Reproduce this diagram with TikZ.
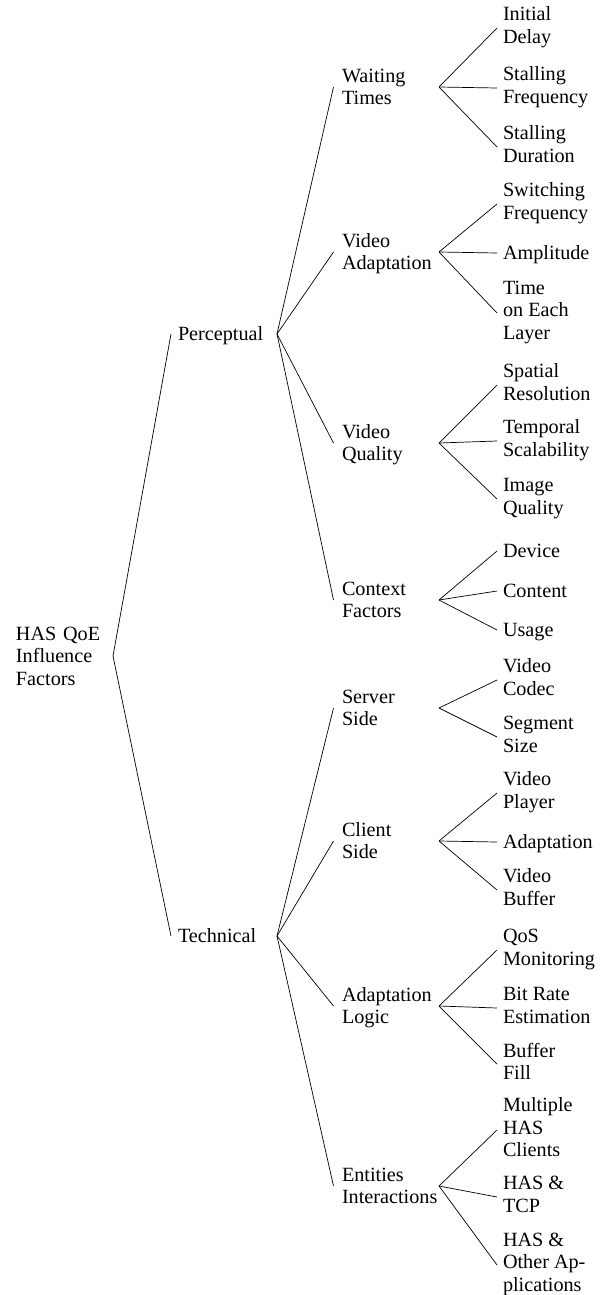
\documentclass[tikz,border=0pt]{standalone}
\usepackage{fontspec}
\setmainfont{Liberation Serif}
\begin{document}
\begin{tikzpicture}[x=1pt,y=-1pt,
  txt/.style={font=\fontsize{20.2}{22.5}\selectfont, inner sep=0pt, outer sep=0pt,
    anchor=west, align=left,
    execute at begin node={\rule{0pt}{19pt}},
    execute at end node={\rule[-5.6pt]{0pt}{5.6pt}}},
  lvlzero/.style={txt, text width=97pt},
  lvlone/.style={txt, text width=99pt},
  lvltwo/.style={txt, text width=97pt},
  leaf/.style={txt},
  link/.style={draw=black, line width=0.7pt}]
\useasboundingbox (0,0) rectangle (606,1295);
% root
\node[lvlzero] (root) at (16,656) {HAS QoE\\Influence\\Factors};
% level 1
\node[lvlone] (per) at (178,334) {Perceptual};
\node[lvlone] (tec) at (178,936) {Technical};
% level 2
\node[lvltwo] (wt) at (342,87) {Waiting\\Times};
\node[lvltwo] (va) at (342,252) {Video\\Adaptation};
\node[lvltwo] (vq) at (342,443) {Video\\Quality};
\node[lvltwo] (cf) at (342,600) {Context\\Factors};
\node[lvltwo] (sv) at (342,708) {Server\\Side};
\node[lvltwo] (cs) at (342,841) {Client\\Side};
\node[lvltwo] (al) at (342,1006) {Adaptation\\Logic};
\node[lvltwo] (ei) at (342,1186) {Entities\\Interactions};
% leaves
\node[leaf] (id) at (503,28) {Initial\\Delay};
\node[leaf] (sf) at (503,88) {Stalling\\Frequency};
\node[leaf] (sd) at (503,147) {Stalling\\Duration};
\node[leaf] (swf) at (503,204) {Switching\\Frequency};
\node[leaf] (amp) at (503,253) {Amplitude};
\node[leaf] (tel) at (503,313) {Time\\on Each\\Layer};
\node[leaf] (spr) at (503,385) {Spatial\\Resolution};
\node[leaf] (tsc) at (503,441) {Temporal\\Scalability};
\node[leaf] (iq) at (503,499) {Image\\Quality};
\node[leaf] (dev) at (503,551) {Device};
\node[leaf] (con) at (503,591) {Content};
\node[leaf] (usg) at (503,630) {Usage};
\node[leaf] (vc) at (503,680) {Video\\Codec};
\node[leaf] (ssz) at (503,737) {Segment\\Size};
\node[leaf] (vp) at (503,793) {Video\\Player};
\node[leaf] (adp) at (503,842) {Adaptation};
\node[leaf] (vb) at (503,890) {Video\\Buffer};
\node[leaf] (qos) at (503,950) {QoS\\Monitoring};
\node[leaf] (bre) at (503,1008) {Bit Rate\\Estimation};
\node[leaf] (bf) at (503,1064) {Buffer\\Fill};
\node[leaf] (mhc) at (503,1130) {Multiple\\HAS\\Clients};
\node[leaf] (tcp) at (503,1197) {HAS \&\\TCP};
\node[leaf] (oth) at (503,1265) {HAS \&\\Other Ap-\\plications};
% connectors root -> level 1
\draw[link] (root.east) -- ([xshift=-7pt]per.west);
\draw[link] (root.east) -- ([xshift=-7pt]tec.west);
% level 1 -> level 2
\foreach \c in {wt,va,vq,cf}{\draw[link] (per.east) -- ([xshift=-8.5pt]\c.west);}
\foreach \c in {sv,cs,al,ei}{\draw[link] (tec.east) -- ([xshift=-8.5pt]\c.west);}
% level 2 -> leaves
\foreach \c in {id,sf,sd}{\draw[link] (wt.east) -- ([xshift=-6pt]\c.west);}
\foreach \c in {swf,amp,tel}{\draw[link] (va.east) -- ([xshift=-6pt]\c.west);}
\foreach \c in {spr,tsc,iq}{\draw[link] (vq.east) -- ([xshift=-6pt]\c.west);}
\foreach \c in {dev,con,usg}{\draw[link] (cf.east) -- ([xshift=-6pt]\c.west);}
\foreach \c in {vc,ssz}{\draw[link] (sv.east) -- ([xshift=-6pt]\c.west);}
\foreach \c in {vp,adp,vb}{\draw[link] (cs.east) -- ([xshift=-6pt]\c.west);}
\foreach \c in {qos,bre,bf}{\draw[link] (al.east) -- ([xshift=-6pt]\c.west);}
\foreach \c in {mhc,tcp,oth}{\draw[link] (ei.east) -- ([xshift=-6pt]\c.west);}
\end{tikzpicture}
\end{document}
